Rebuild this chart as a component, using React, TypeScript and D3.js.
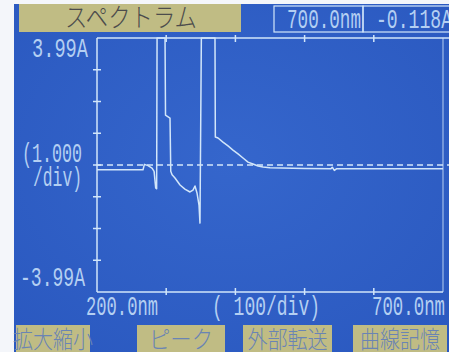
import React from "react";
import * as d3 from "d3";

const wavelengthsNm = [200, 266.5, 268.5, 273.7, 279.5, 282.5, 284.8, 286.2, 286.8, 298.3, 299, 305.5, 306.6, 308.5, 312.7, 320, 327, 334.4, 338.7, 341.6, 344.5, 347.4, 348.8, 350.8, 370.5, 371, 374.9, 382, 389.3, 396.5, 403.8, 411, 418.2, 425.4, 432.7, 439.9, 450, 500, 538, 540, 543, 546, 600, 650, 700];
const signalA = [-0.15, -0.15, 0.02, -0.02, -0.1, -0.2, -0.72, -0.75, 4, 4, 1.57, 1.48, -0.2, -0.31, -0.41, -0.63, -0.76, -0.85, -0.79, -0.66, -0.88, -1.26, -1.83, 4, 4, 0.88, 0.85, 0.72, 0.6, 0.47, 0.35, 0.22, 0.09, 0.03, -0.03, -0.06, -0.09, -0.11, -0.12, -0.07, -0.17, -0.12, -0.12, -0.12, -0.118];
const xTicks = [300, 400, 500, 600];
const yTicks = [-3, -2, -1, 0, 1, 2, 3];
const yTopLabel = "3.99A";
const yBottomLabel = "-3.99A";
const yScaleLabel = ["(1.000", "/div)"];
const xLeftLabel = "200.0nm";
const xMidLabel = "( 100/div)";
const xRightLabel = "700.0nm";
const title = "スペクトラム";
const readoutWavelength = "700.0nm";
const readoutValue = "-0.118A";
const menuButtons = ["拡大縮小", "ピーク", "外部転送", "曲線記憶"];

const W = 449;
const H = 352;
const LINE = "#d2e6fa";
const TEXT = "#b4cff2";
const KHAKI = "#c0bc84";
const MONO = "'Liberation Mono', 'DejaVu Sans Mono', monospace";
const CJK = "'Noto Sans CJK JP', sans-serif";
const FS = 27;

export default function App() {
  const x = d3.scaleLinear().domain([200, 700]).range([97, 443]);
  const y = d3.scaleLinear().domain([-4, 4]).range([292, 38]);
  const pts: [number, number][] = wavelengthsNm.map((w, i) => [w, signalA[i]]);
  const line = d3
    .line<[number, number]>()
    .x((d) => x(d[0]))
    .y((d) => y(d[1]));

  const buttonBoxes = [
    [16, 90],
    [137, 225],
    [243, 332],
    [353, 447],
  ];

  const label = (s: string, lx: number, ly: number, len: number) => (
    <text
      x={lx}
      y={ly}
      fontFamily={MONO}
      fontSize={FS}
      fill={TEXT}
      textLength={len}
      lengthAdjust="spacingAndGlyphs"
    >
      {s}
    </text>
  );

  return (
    <svg
      width={W}
      height={H}
      style={{ position: "absolute", left: 0, top: 0, display: "block" }}
    >
      <defs>
        <radialGradient id="bg" cx="0.5" cy="0.45" r="0.75">
          <stop offset="0" stopColor="#3566cc" />
          <stop offset="1" stopColor="#2a58bf" />
        </radialGradient>
      </defs>
      <rect x={0} y={0} width={W} height={H} fill="#f4f6fa" />
      <rect x={14} y={4} width={W - 14} height={H - 4} fill="url(#bg)" />

      {/* title */}
      <rect x={19} y={4} width={222} height={28} fill={KHAKI} />
      <text
        x={131}
        y={27}
        textAnchor="middle"
        fontFamily={CJK}
        fontSize={26}
        fontWeight={300}
        fill="#4c4c4c"
        textLength={132}
        lengthAdjust="spacingAndGlyphs"
      >
        {title}
      </text>

      {/* readout boxes */}
      <rect x={274} y={6} width={89} height={26} fill="none" stroke={LINE} strokeWidth={1.2} />
      <rect x={363} y={6} width={100} height={26} fill="none" stroke={LINE} strokeWidth={1.2} />
      {label(readoutWavelength, 287, 28, 74)}
      {label(readoutValue, 376, 28, 76)}

      {/* frame */}
      <line x1={x(200)} x2={W} y1={y(4)} y2={y(4)} stroke={LINE} strokeWidth={1.5} />
      <line x1={x(200)} x2={x(700)} y1={y(-4)} y2={y(-4)} stroke={LINE} strokeWidth={1.5} />
      <line x1={x(200)} x2={x(200)} y1={y(4)} y2={y(-4)} stroke={LINE} strokeWidth={1.5} />
      <line x1={x(700)} x2={x(700)} y1={y(4)} y2={y(-4)} stroke={LINE} strokeWidth={1.2} opacity={0.7} />

      {yTicks.map((t) => (
        <line key={"yt" + t} x1={x(200) - 4} x2={x(200) + 4} y1={y(t)} y2={y(t)} stroke={LINE} strokeWidth={1.5} />
      ))}
      {xTicks.map((t) => (
        <g key={"xt" + t}>
          <line x1={x(t)} x2={x(t)} y1={y(4) - 3} y2={y(4) + 4} stroke={LINE} strokeWidth={1.5} />
          <line x1={x(t)} x2={x(t)} y1={y(-4) - 4} y2={y(-4) + 3} stroke={LINE} strokeWidth={1.5} />
        </g>
      ))}

      {/* zero reference */}
      <line
        x1={x(200)}
        x2={W}
        y1={y(0)}
        y2={y(0)}
        stroke={LINE}
        strokeWidth={1.5}
        strokeDasharray="6 4"
      />

      {/* spectrum trace */}
      <path d={line(pts) || ""} fill="none" stroke={LINE} strokeWidth={1.5} strokeLinejoin="round" />

      {/* y labels */}
      {label(yTopLabel, 32, 57, 56)}
      {label(yScaleLabel[0], 22, 162, 60)}
      {label(yScaleLabel[1], 33, 186, 49)}
      {label(yBottomLabel, 20, 286, 65)}

      {/* x labels */}
      {label(xLeftLabel, 86, 315, 72)}
      {label(xMidLabel, 212, 315, 108)}
      {label(xRightLabel, 372, 315, 73)}

      {/* menu buttons */}
      {menuButtons.map((b, i) => {
        const [x0, x1] = buttonBoxes[i];
        return (
          <g key={b}>
            <rect x={x0} y={325} width={x1 - x0} height={30} fill={KHAKI} />
            <text
              x={(x0 + x1) / 2}
              y={348}
              textAnchor="middle"
              fontFamily={CJK}
              fontSize={24}
              fontWeight={300}
              fill="#6a84b4"
              textLength={b.length === 3 ? 64 : 80}
              lengthAdjust="spacingAndGlyphs"
            >
              {b}
            </text>
          </g>
        );
      })}
    </svg>
  );
}
